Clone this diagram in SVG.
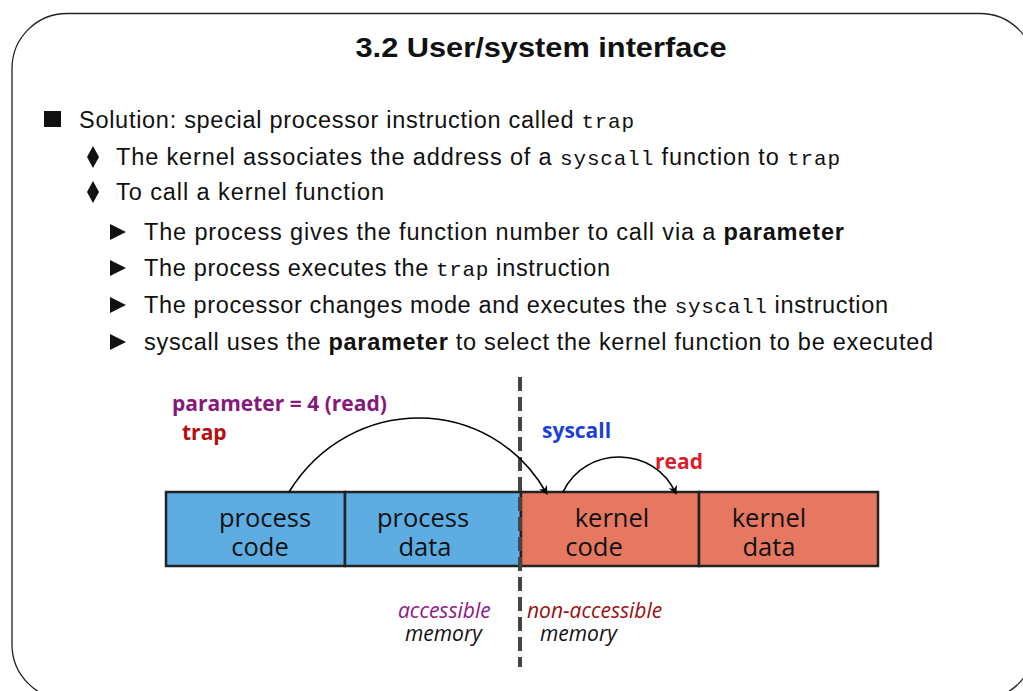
<svg xmlns="http://www.w3.org/2000/svg" width="1023" height="691" viewBox="0 0 1023 691">
<defs>
<style>
.body{font-family:"Liberation Sans",Arial,sans-serif;font-size:23.5px;fill:#111}
.mono{font-family:"Liberation Mono","DejaVu Sans Mono",monospace;font-size:21px}
.b{font-weight:bold}
.box{stroke:#222;stroke-width:2.5}
.blue{fill:#5DADE2}
.red{fill:#E67862}
.lbl{font-family:"Open Sans","Noto Sans",sans-serif;font-size:25.5px;fill:#111;text-anchor:middle}
.ann{font-family:"Open Sans","Noto Sans",sans-serif;font-size:21px;font-weight:bold}
.it{font-family:"Open Sans","Noto Sans",sans-serif;font-size:21px;font-style:italic}
.arc{fill:none;stroke:#000;stroke-width:1.6}
</style>
<marker id="ah" viewBox="0 0 10 10" refX="9" refY="5" markerWidth="9" markerHeight="9" orient="auto" markerUnits="userSpaceOnUse">
<path d="M0,0 L10,5 L0,10 L3,5 Z" fill="#000"/>
</marker>
</defs>
<rect x="12" y="13.5" width="1023" height="686" rx="55" ry="55" fill="#fff" stroke="#222" stroke-width="1.3"/>
<text x="541" y="57" text-anchor="middle" textLength="371" lengthAdjust="spacingAndGlyphs" style="font-family:'Liberation Sans',Arial,sans-serif;font-size:28px;font-weight:bold;fill:#111">3.2 User/system interface</text>
<g id="bullets">
<rect x="44" y="111" width="17" height="16" fill="#111"/>
<path d="M93,146 L99,157 L93,168 L87,157 Z" fill="#111"/>
<path d="M93,181 L99,192 L93,203 L87,192 Z" fill="#111"/>
<path d="M110,224 L126,232 L110,240 Z" fill="#111"/>
<path d="M110,260 L126,268 L110,276 Z" fill="#111"/>
<path d="M110,297 L126,305 L110,313 Z" fill="#111"/>
<path d="M110,334 L126,342 L110,350 Z" fill="#111"/>
<text class="body" x="79" y="128" textLength="555">Solution: special processor instruction called <tspan class="mono">trap</tspan></text>
<text class="body" x="116" y="165" textLength="724">The kernel associates the address of a <tspan class="mono">syscall</tspan> function to <tspan class="mono">trap</tspan></text>
<text class="body" x="116" y="200" textLength="268">To call a kernel function</text>
<text class="body" x="144" y="240" textLength="700">The process gives the function number to call via a <tspan class="b">parameter</tspan></text>
<text class="body" x="144" y="276" textLength="466">The process executes the <tspan class="mono">trap</tspan> instruction</text>
<text class="body" x="144" y="313" textLength="744">The processor changes mode and executes the <tspan class="mono">syscall</tspan> instruction</text>
<text class="body" x="144" y="350" textLength="789">syscall uses the <tspan class="b">parameter</tspan> to select the kernel function to be executed</text>
</g>
<g id="process-code">
<rect class="box blue" x="166" y="492" width="179" height="74"/>
<text class="lbl" x="265" y="527">process</text>
<text class="lbl" x="260" y="556">code</text>
</g>
<g id="process-data">
<rect class="box blue" x="345" y="492" width="176" height="74"/>
<text class="lbl" x="423" y="527">process</text>
<text class="lbl" x="425" y="556">data</text>
</g>
<g id="kernel-code">
<rect class="box red" x="521" y="492" width="178" height="74"/>
<text class="lbl" x="612" y="527">kernel</text>
<text class="lbl" x="594" y="556">code</text>
</g>
<g id="kernel-data">
<rect class="box red" x="699" y="492" width="179" height="74"/>
<text class="lbl" x="769" y="527">kernel</text>
<text class="lbl" x="769" y="556">data</text>
</g>
<g id="connectors">
<line x1="520" y1="377" x2="520" y2="667" stroke="#444" stroke-width="4" stroke-dasharray="14 6"/>
<path class="arc" d="M289,492 C350,393 490,393 547,494" marker-end="url(#ah)"/>
<path class="arc" d="M563,492 C585,445 655,445 676,494" marker-end="url(#ah)"/>
</g>
<g id="labels">
<text class="ann" x="172" y="411" fill="#86197C">parameter = 4 (read)</text>
<text class="ann" x="182" y="440" fill="#B3100F">trap</text>
<text class="ann" x="542" y="438" fill="#1B3FD8">syscall</text>
<text class="ann" x="655" y="469" fill="#D81F2E">read</text>
<text class="it" x="398" y="618" fill="#8E1787">accessible</text>
<text class="it" x="405" y="641" fill="#111">memory</text>
<text class="it" x="527" y="618" fill="#9A1010">non-accessible</text>
<text class="it" x="540" y="641" fill="#111">memory</text>
</g>
</svg>
